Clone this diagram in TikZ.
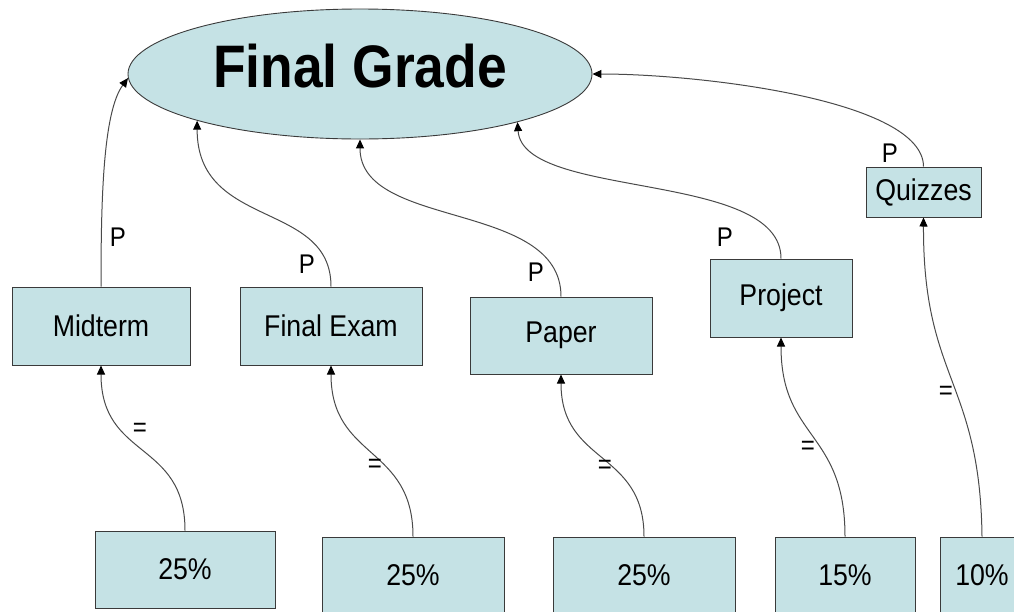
\documentclass[tikz,border=0pt]{standalone}
\usepackage{fontspec}
\setmainfont{Liberation Sans}[FakeStretch=0.89]
\usetikzlibrary{shapes.geometric,arrows.meta}
\definecolor{boxfill}{HTML}{C5E2E5}
\definecolor{boxline}{HTML}{3A3A3A}
\definecolor{connline}{HTML}{4A4A4A}
\begin{document}
\begin{tikzpicture}[x=1pt,y=-1pt,
  box/.style={draw=boxline, line width=1pt, fill=boxfill, inner sep=0pt,
    font=\fontsize{30}{36}\selectfont},
  lbl/.style={inner sep=0pt, font=\fontsize{27}{32}\selectfont},
  conn/.style={draw=connline, line width=1pt,
    -{Triangle[length=9pt,width=8pt,color=black]}}]
\useasboundingbox (0,0) rectangle (1014,611);
\clip (0,0) rectangle (1014,611);

% top ellipse
\node[ellipse, draw=boxline, line width=0.9pt, fill=boxfill,
  minimum width=464pt, minimum height=130pt, inner sep=0pt,
  text depth=16pt, font=\bfseries\fontsize{60}{72}\selectfont]
  (fg) at (360,74) {Final Grade};

% middle row
\node[box, minimum width=178pt, minimum height=78pt] (mid) at (101,326) {Midterm};
\node[box, minimum width=182pt, minimum height=78pt] (fex) at (331,326) {Final Exam};
\node[box, minimum width=182pt, minimum height=77pt] (pap) at (561,335.5) {Paper};
\node[box, minimum width=142pt, minimum height=78pt] (pro) at (781,298) {Project};
\node[box, minimum width=115pt, minimum height=50pt] (qui) at (923.5,192) {Quizzes};

% bottom row
\node[box, minimum width=180pt, minimum height=77pt] (b1) at (185,569.5) {25\%};
\node[box, minimum width=182pt, minimum height=77pt] (b2) at (413,575.5) {25\%};
\node[box, minimum width=182pt, minimum height=77pt] (b3) at (644,575.5) {25\%};
\node[box, minimum width=140pt, minimum height=77pt] (b4) at (845,575.5) {15\%};
\node[box, minimum width=84pt, minimum height=77pt] (b5) at (982,575.5) {10\%};

% P connectors
\draw[conn] (mid.north) .. controls (101,200) and (103,112) .. (fg.181);
\draw[conn] (fex.north) .. controls (331,200) and (197,230) .. (fg.196);
\draw[conn] (pap.north) .. controls (561,200) and (360,230) .. (fg.270);
\draw[conn] (pro.north) .. controls (781,170) and (523,200) .. (fg.343.6);
\draw[conn] (qui.north) .. controls (923,100) and (700,74) .. (fg.0);

% = connectors
\draw[conn] (b1.north) .. controls (185,440) and (101,460) .. (mid.south);
\draw[conn] (b2.north) .. controls (413,445) and (331,460) .. (fex.south);
\draw[conn] (b3.north) .. controls (644,450) and (561,465) .. (pap.south);
\draw[conn] (b4.north) .. controls (845,430) and (781,440) .. (pro.south);
\draw[conn] (b5.north) .. controls (980,380) and (923,380) .. (qui.south);

% labels
\node[lbl] (p1) at (118,237) {P};
\node[lbl] (p2) at (307,264) {P};
\node[lbl] (p3) at (536,272) {P};
\node[lbl] (p4) at (725,237) {P};
\node[lbl] (p5) at (890,153) {P};

\node[lbl] (e1) at (140,430) {=};
\node[lbl] (e2) at (375,466) {=};
\node[lbl] (e3) at (605,467) {=};
\node[lbl] (e4) at (808,448) {=};
\node[lbl] (e5) at (946,393) {=};
\end{tikzpicture}
\end{document}
